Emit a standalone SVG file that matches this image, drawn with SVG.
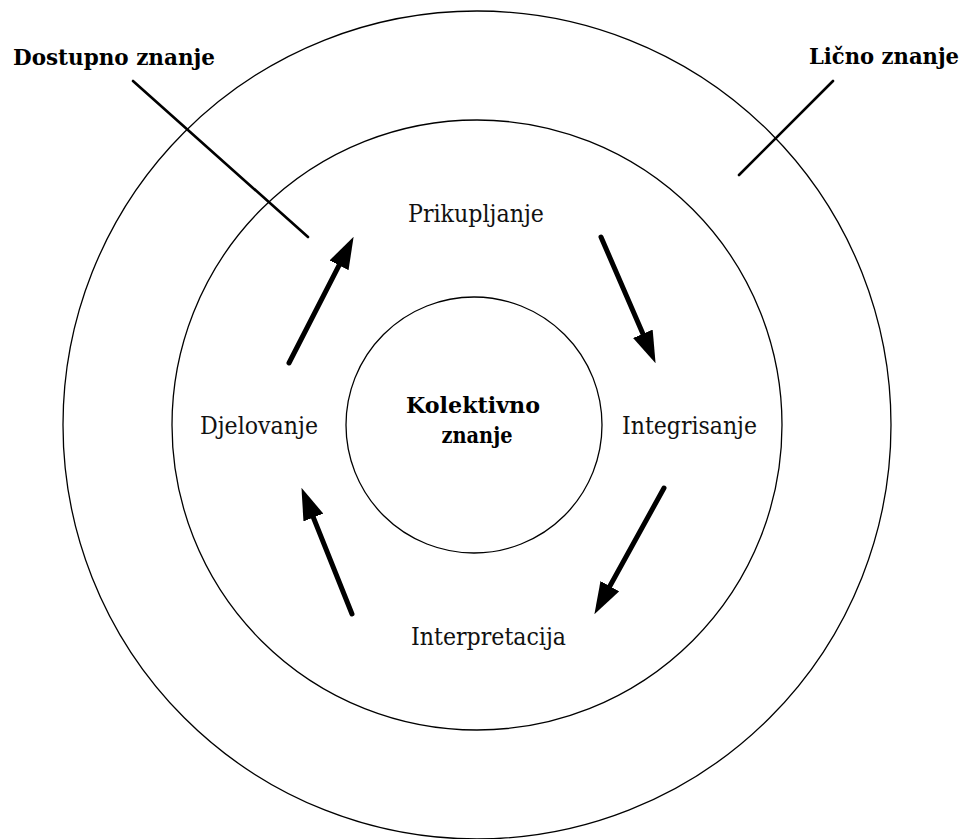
<svg xmlns="http://www.w3.org/2000/svg" width="964" height="839" viewBox="0 0 964 839">
<style>
.ring{fill:none;stroke:#000;stroke-width:1.3}
.lead{stroke:#000;stroke-width:2.6;stroke-linecap:round}
.arr{stroke:#000;stroke-width:5;stroke-linecap:round;fill:none}
.lbl{font-family:"DejaVu Serif","Liberation Serif",serif;font-size:23.5px;fill:#111}
.bold{font-family:"DejaVu Serif","Liberation Serif",serif;font-size:22px;font-weight:bold;fill:#000}
</style>
<defs>
<marker id="ah" markerUnits="userSpaceOnUse" markerWidth="32" markerHeight="22" refX="10" refY="10" orient="auto" viewBox="0 0 30 20">
<path d="M0,0 L30,10 L0,20 z" fill="#000"/>
</marker>
</defs>
<g id="outer"><circle class="ring" cx="477" cy="425" r="414"/></g>
<g id="middle"><circle class="ring" cx="477" cy="425" r="305"/></g>
<g id="inner"><circle class="ring" cx="474" cy="425" r="128"/>
<text class="bold" x="473" y="413" text-anchor="middle" textLength="134" lengthAdjust="spacingAndGlyphs">Kolektivno</text>
<text class="bold" x="477" y="443" text-anchor="middle" textLength="71" lengthAdjust="spacingAndGlyphs">znanje</text>
</g>
<g id="dostupno"><text class="bold" x="13" y="65" textLength="202" lengthAdjust="spacingAndGlyphs">Dostupno znanje</text></g>
<g id="licno"><text class="bold" x="809" y="64" textLength="150" lengthAdjust="spacingAndGlyphs">Lično znanje</text></g>
<g id="prikupljanje"><text class="lbl" x="408" y="222" textLength="136" lengthAdjust="spacingAndGlyphs">Prikupljanje</text></g>
<g id="integrisanje"><text class="lbl" x="622" y="434" textLength="135" lengthAdjust="spacingAndGlyphs">Integrisanje</text></g>
<g id="interpretacija"><text class="lbl" x="411" y="645" textLength="155" lengthAdjust="spacingAndGlyphs">Interpretacija</text></g>
<g id="djelovanje"><text class="lbl" x="200" y="434" textLength="118" lengthAdjust="spacingAndGlyphs">Djelovanje</text></g>
<g id="connectors">
<line class="lead" x1="133" y1="81" x2="308" y2="237"/>
<line class="lead" x1="833" y1="81" x2="739" y2="175"/>
<line class="arr" x1="289" y1="363" x2="343.9" y2="255.8" marker-end="url(#ah)"/>
<line class="arr" x1="601" y1="237" x2="647.1" y2="343.6" marker-end="url(#ah)"/>
<line class="arr" x1="664" y1="488" x2="604.7" y2="595.5" marker-end="url(#ah)"/>
<line class="arr" x1="352" y1="614" x2="309.4" y2="507.6" marker-end="url(#ah)"/>
</g>
</svg>
